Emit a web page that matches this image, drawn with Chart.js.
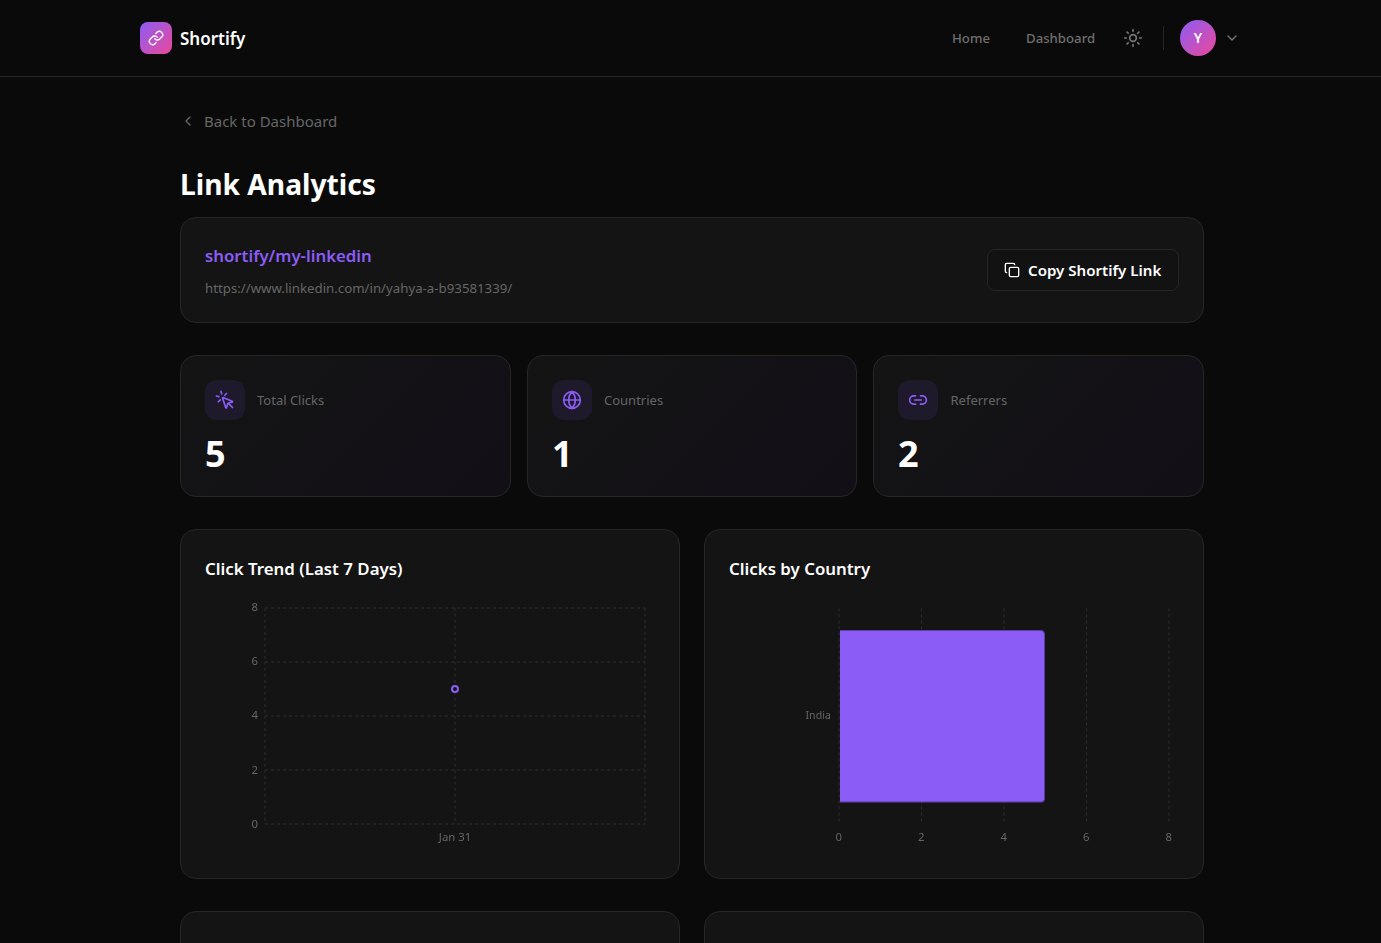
<!DOCTYPE html>
<html><head><meta charset="utf-8"><title>Shortify Link Analytics</title>
<script src="https://cdn.jsdelivr.net/npm/chart.js@4"></script>
<style>
*{box-sizing:border-box}
html,body{margin:0;height:943px;overflow:hidden;background:#0a0a0a;font-family:"Noto Sans",sans-serif;color:#fff}
.a{position:absolute;white-space:nowrap;line-height:1.2}
.card{position:absolute;background:#141414;border:1px solid #262626;border-radius:16px}
.stat{background:linear-gradient(135deg,#141414 0%,#120f17 100%);top:355px;height:142px}
.ib{position:absolute;width:40px;height:40px;border-radius:12px;background:#1e1a2b;top:380px;display:flex;align-items:center;justify-content:center}
svg.i{fill:none;stroke:currentColor;stroke-width:2;stroke-linecap:round;stroke-linejoin:round;display:block}
.muted{color:#666}.h{font-size:16.85px;font-weight:600;top:558.5px}
.sv{font-size:36px;font-weight:700;top:432px}.sl{font-size:13px;color:#666;top:392.5px}
.cv{position:absolute;top:594px;width:450px;height:273px}
</style></head><body>
<div class="a" style="left:0;top:76px;width:1381px;height:1px;background:#262626"></div>
<div class="a" style="left:140px;top:22px;width:32px;height:32px;border-radius:8px;background:linear-gradient(135deg,#8b5cf6,#ec4899);display:flex;align-items:center;justify-content:center;color:#fff"><svg class="i" width="16" height="16" viewBox="0 0 24 24"><path d="M10 13a5 5 0 0 0 7.54.54l3-3a5 5 0 0 0-7.07-7.07l-1.72 1.71"/><path d="M14 11a5 5 0 0 0-7.54-.54l-3 3a5 5 0 0 0 7.07 7.07l1.71-1.71"/></svg></div>
<div class="a" style="left:180px;top:29px;font-size:17px;font-weight:600">Shortify</div>
<div class="a muted" style="left:952px;top:31px;font-size:13.2px;font-weight:500;color:#6f6f6f">Home</div>
<div class="a muted" style="left:1026px;top:31px;font-size:13.2px;font-weight:500;color:#6f6f6f">Dashboard</div>
<div class="a" style="left:1123px;top:28px;color:#777"><svg class="i" width="20" height="20" viewBox="0 0 24 24"><circle cx="12" cy="12" r="4"/><path d="M12 2v2M12 20v2M4.93 4.93l1.41 1.41M17.66 17.66l1.41 1.41M2 12h2M20 12h2M6.34 17.66l-1.41 1.41M19.07 4.93l-1.41 1.41"/></svg></div>
<div class="a" style="left:1163px;top:26px;width:1px;height:24px;background:#262626"></div>
<div class="a" style="left:1180px;top:20px;width:36px;height:36px;border-radius:50%;background:linear-gradient(135deg,#8b5cf6,#ec4899);display:flex;align-items:center;justify-content:center;font-size:14px;font-weight:600">Y</div>
<div class="a" style="left:1224px;top:30px;color:#777"><svg class="i" width="16" height="16" viewBox="0 0 24 24"><path d="m6 9 6 6 6-6"/></svg></div>

<div class="a" style="left:180px;top:113px;color:#666"><svg class="i" width="16" height="16" viewBox="0 0 24 24"><path d="m15 18-6-6 6-6"/></svg></div>
<div class="a muted" style="left:204px;top:112px;font-size:15px">Back to Dashboard</div>
<div class="a" style="left:180px;top:168px;font-size:28.2px;font-weight:700">Link Analytics</div>

<div class="card" style="left:180px;top:217px;width:1024px;height:106px"></div>
<div class="a" style="left:205px;top:246px;font-size:16.8px;font-weight:600;color:#8b5cf6">shortify/my-linkedin</div>
<div class="a muted" style="left:205px;top:281px;font-size:13.25px">https://www.linkedin.com/in/yahya-a-b93581339/</div>
<div class="a" style="left:987px;top:249px;width:192px;height:42px;border:1px solid #262626;border-radius:8px;background:#121212"></div>
<div class="a" style="left:1004px;top:262px"><svg class="i" width="16" height="16" viewBox="0 0 24 24"><rect x="8" y="8" width="14" height="14" rx="2"/><path d="M4 16c-1.1 0-2-.9-2-2V4c0-1.1.9-2 2-2h10c1.1 0 2 .9 2 2"/></svg></div>
<div class="a" style="left:1028px;top:261px;font-size:15.1px;font-weight:600">Copy Shortify Link</div>

<div class="card stat" style="left:180px;width:331px"></div>
<div class="card stat" style="left:527px;width:330px"></div>
<div class="card stat" style="left:873px;width:331px"></div>
<div class="ib" style="left:205px;color:#8b5cf6"><svg class="i" width="20" height="20" viewBox="0 0 24 24"><path d="M9.04 9.63a.5.5 0 0 1 .59-.59l11 4.5a.5.5 0 0 1-.06.95l-4.2 1.09a2 2 0 0 0-1.43 1.43l-1.09 4.2a.5.5 0 0 1-.95.06z"/><path d="M16 16l5 5M7.19 1.7l.77 2.9M4.6 7.96l-2.9-.77M13.9 4.2l-2.12 2.12M6.3 11.8l-2.1 2.1"/></svg></div>
<div class="a sl" style="left:257px">Total Clicks</div><div class="a sv" style="left:205px" id="s0"></div>
<div class="ib" style="left:552px;color:#8b5cf6"><svg class="i" width="20" height="20" viewBox="0 0 24 24"><circle cx="12" cy="12" r="10"/><path d="M12 2a14.5 14.5 0 0 0 0 20 14.5 14.5 0 0 0 0-20M2 12h20"/></svg></div>
<div class="a sl" style="left:604px">Countries</div><div class="a sv" style="left:552px" id="s1"></div>
<div class="ib" style="left:898px;color:#8b5cf6"><svg class="i" width="20" height="20" viewBox="0 0 24 24"><path d="M9 17H7A5 5 0 0 1 7 7h2M15 7h2a5 5 0 0 1 0 10h-2M8 12h8"/></svg></div>
<div class="a sl" style="left:950.5px">Referrers</div><div class="a sv" style="left:898px" id="s2"></div>

<div class="card" style="left:180px;top:529px;width:500px;height:350px"></div>
<div class="card" style="left:704px;top:529px;width:500px;height:350px"></div>
<div class="a h" style="left:205px">Click Trend (Last 7 Days)</div>
<div class="a h" style="left:729px">Clicks by Country</div>
<div class="cv" style="left:205px"><canvas id="trend"></canvas></div>
<div class="cv" style="left:729px"><canvas id="country"></canvas></div>
<div class="card" style="left:180px;top:911px;width:500px;height:350px"></div>
<div class="card" style="left:704px;top:911px;width:500px;height:350px"></div>

<script>
const statValues = [5, 1, 2];
const trendDays = ["", "Jan 31", ""];
const trendClicks = [null, 5, null];
const countries = ["India"];
const countryClicks = [5];
const axisTicks = [0, 2, 4, 6, 8];

statValues.forEach((v, i) => document.getElementById("s" + i).textContent = v);
const softGrid = "#212121", gridColor = "#2a2a2a", tickColor = "#666", purple = "#8b5cf6";
const tickFont = { family: "'Noto Sans'", size: 11.3 };
const dashed = [3, 3];
const setTicks = s => { s.ticks = axisTicks.map(value => ({ value })); };

new Chart(document.getElementById("trend"), {
  type: "line",
  data: { labels: trendDays, datasets: [{ data: trendClicks, borderColor: purple, backgroundColor: "#141414",
    pointRadius: 3, pointBorderWidth: 2, pointBorderColor: purple, pointBackgroundColor: "#141414", borderWidth: 2 }] },
  options: { responsive: true, maintainAspectRatio: false, animation: false,
    layout: { padding: { left: 39.5, right: 10, top: 2, bottom: 15 } },
    plugins: { legend: { display: false }, tooltip: { enabled: false } },
    scales: {
      x: { grid: { color: softGrid, lineWidth: 2, drawTicks: false }, border: { display: false, dash: dashed },
        ticks: { color: tickColor, font: tickFont, padding: 7, autoSkip: false, maxRotation: 0 } },
      y: { min: 0, max: 8, afterBuildTicks: setTicks, grid: { color: softGrid, lineWidth: 2, drawTicks: false },
        border: { display: false, dash: dashed }, ticks: { color: tickColor, font: tickFont, padding: 7 } }
    } }
});

new Chart(document.getElementById("country"), {
  type: "bar",
  data: { labels: countries, datasets: [{ data: countryClicks, backgroundColor: purple, borderRadius: 4,
    borderWidth: 1, borderColor: "rgba(91,60,170,1)", barPercentage: 0.8, categoryPercentage: 1, borderSkipped: "left" }] },
  options: { indexAxis: "y", responsive: true, maintainAspectRatio: false, animation: false,
    layout: { padding: { left: 68.5, right: 8.5, top: 2, bottom: 15 } },
    plugins: { legend: { display: false }, tooltip: { enabled: false } },
    scales: {
      x: { min: 0, max: 8, afterBuildTicks: setTicks,
        grid: { color: c => c.tick && c.tick.value % 4 === 0 ? softGrid : gridColor, lineWidth: c => c.tick && c.tick.value % 4 === 0 ? 2 : 1, drawTicks: false },
        border: { display: false, dash: dashed }, ticks: { color: tickColor, font: tickFont, padding: 7 } },
      y: { grid: { display: false, drawTicks: false }, border: { display: false }, ticks: { color: tickColor, font: { family: "'Noto Sans'", size: 10.6 }, padding: 8 } }
    } }
});
</script>
</body></html>
